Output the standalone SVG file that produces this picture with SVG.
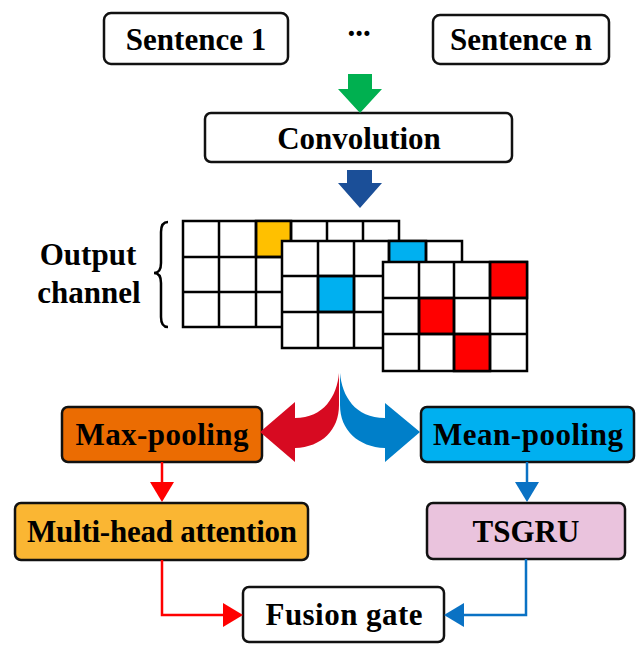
<svg xmlns="http://www.w3.org/2000/svg" width="638" height="645" viewBox="0 0 638 645">
  <style>
    .box { stroke: #111; stroke-width: 2.5; }
    .lbl { font-family: 'Liberation Serif', 'Times New Roman', serif; font-weight: 700; font-size: 31px; fill: #000; text-anchor: middle; }
    .cell { fill: #fff; stroke: #000; stroke-width: 2.5; }
    .gl { stroke: #000; stroke-width: 2.5; fill: none; }
    .red { stroke: #FF0000; stroke-width: 2.5; fill: none; }
    .blue { stroke: #0A72C4; stroke-width: 2.5; fill: none; }
  </style>
  <defs>
    <!-- arrowheads: tip sits 4px past the end of the line -->
    <marker id="headRed" markerUnits="userSpaceOnUse" viewBox="0 0 20 24" refX="16" refY="12" markerWidth="20" markerHeight="24" orient="auto">
      <path d="M0,0 L20,12 L0,24 Z" fill="#FF0000"/>
    </marker>
    <marker id="headBlue" markerUnits="userSpaceOnUse" viewBox="0 0 20 24" refX="16" refY="12" markerWidth="20" markerHeight="24" orient="auto">
      <path d="M0,0 L20,12 L0,24 Z" fill="#0A72C4"/>
    </marker>
  </defs>

  <rect width="638" height="645" fill="#fff"/>

  <!-- inputs -->
  <g id="sentence1">
    <rect class="box" x="104" y="13" width="184" height="51" rx="7" fill="#fff"/>
    <text class="lbl" x="196" y="50">Sentence 1</text>
  </g>
  <g id="ellipsis">
    <text class="lbl" x="359" y="36" font-size="24">...</text>
  </g>
  <g id="sentencen">
    <rect class="box" x="433" y="15" width="176" height="49" rx="7" fill="#fff"/>
    <text class="lbl" x="521" y="50">Sentence n</text>
  </g>

  <!-- convolution stage -->
  <g id="convolution">
    <rect class="box" x="205" y="113" width="307" height="49" rx="6" fill="#fff"/>
    <text class="lbl" x="359" y="149">Convolution</text>
  </g>

  <!-- output channels: three stacked feature maps -->
  <g id="output-channels">
    <text class="lbl" x="88" y="265">Output</text>
    <text class="lbl" x="89" y="303">channel</text>
    <path class="gl" d="M168,222 Q161,222 161,232 L161,263 Q161,273 154,273 Q161,273 161,283 L161,317 Q161,327 168,327"/>

    <!-- map 1 -->
    <rect class="cell" x="183" y="221" width="216" height="106"/>
    <rect x="256" y="221" width="35" height="36" fill="#FFC000" stroke="#000" stroke-width="2.5"/>
    <path class="gl" d="M219,221 V327 M256,221 V327 M291,221 V327 M327,221 V327 M363,221 V327 M183,257 H399 M183,292 H399"/>

    <!-- map 2 -->
    <rect class="cell" x="282" y="241" width="180" height="107"/>
    <rect x="389" y="241" width="37" height="35" fill="#00B0F0" stroke="#000" stroke-width="2.5"/>
    <rect x="318" y="276" width="36" height="36" fill="#00B0F0" stroke="#000" stroke-width="2.5"/>
    <path class="gl" d="M318,241 V348 M354,241 V348 M389,241 V348 M426,241 V348 M282,276 H462 M282,312 H462"/>

    <!-- map 3 -->
    <rect class="cell" x="383" y="262" width="144" height="109"/>
    <rect x="490" y="262" width="37" height="36" fill="#FF0000" stroke="#000" stroke-width="2.5"/>
    <rect x="419" y="298" width="35" height="36" fill="#FF0000" stroke="#000" stroke-width="2.5"/>
    <rect x="454" y="334" width="36" height="37" fill="#FF0000" stroke="#000" stroke-width="2.5"/>
    <path class="gl" d="M419,262 V371 M454,262 V371 M490,262 V371 M383,298 H527 M383,334 H527"/>
  </g>

  <!-- pooling branches -->
  <g id="maxpooling">
    <rect class="box" x="62" y="407" width="200" height="55" rx="6" fill="#EB6C02"/>
    <text class="lbl" x="162" y="445" textLength="173">Max-pooling</text>
  </g>
  <g id="meanpooling">
    <rect class="box" x="421" y="407" width="213" height="55" rx="6" fill="#00B0F0"/>
    <text class="lbl" x="528" y="445" textLength="190">Mean-pooling</text>
  </g>
  <g id="multihead">
    <rect class="box" x="15" y="503" width="293" height="57" rx="6" fill="#FAB633"/>
    <text class="lbl" x="162" y="542" textLength="270">Multi-head attention</text>
  </g>
  <g id="tsgru">
    <rect class="box" x="427" y="503" width="198" height="56" rx="6" fill="#EAC3DD"/>
    <text class="lbl" x="526" y="542">TSGRU</text>
  </g>
  <g id="fusiongate">
    <rect class="box" x="243" y="587" width="201" height="55" rx="6" fill="#fff"/>
    <text class="lbl" x="344" y="625" textLength="157">Fusion gate</text>
  </g>

  <!-- connectors -->
  <g id="connectors">
    <!-- block arrows between stages -->
    <path d="M353,74 H372 V89 H382 L360,113 L338,89 H348 V74 Z" fill="#00B050"/>
    <path d="M347,170 H372 V183 H382 L360,208 L338,183 H347 Z" fill="#1B4F98"/>

    <!-- split into the two pooling branches -->
    <path d="M339,373 C337,396 324,418 295,418 L295,402 L260,432 L295,462 L295,448 C322,447 339,430 339,405 Z" fill="#D70A21"/>
    <path d="M340,373 C342,396 355,418 385,418 L385,403 L420,432 L385,462 L385,448 C358,447 340,430 340,405 Z" fill="#007FC9"/>

    <path class="red" d="M162,462 V498" marker-end="url(#headRed)"/>
    <path class="blue" d="M527,462 V498" marker-end="url(#headBlue)"/>

    <path class="red" d="M162,560 V615 H239" marker-end="url(#headRed)"/>
    <path class="blue" d="M526,559 V615 H448" marker-end="url(#headBlue)"/>
  </g>
</svg>
